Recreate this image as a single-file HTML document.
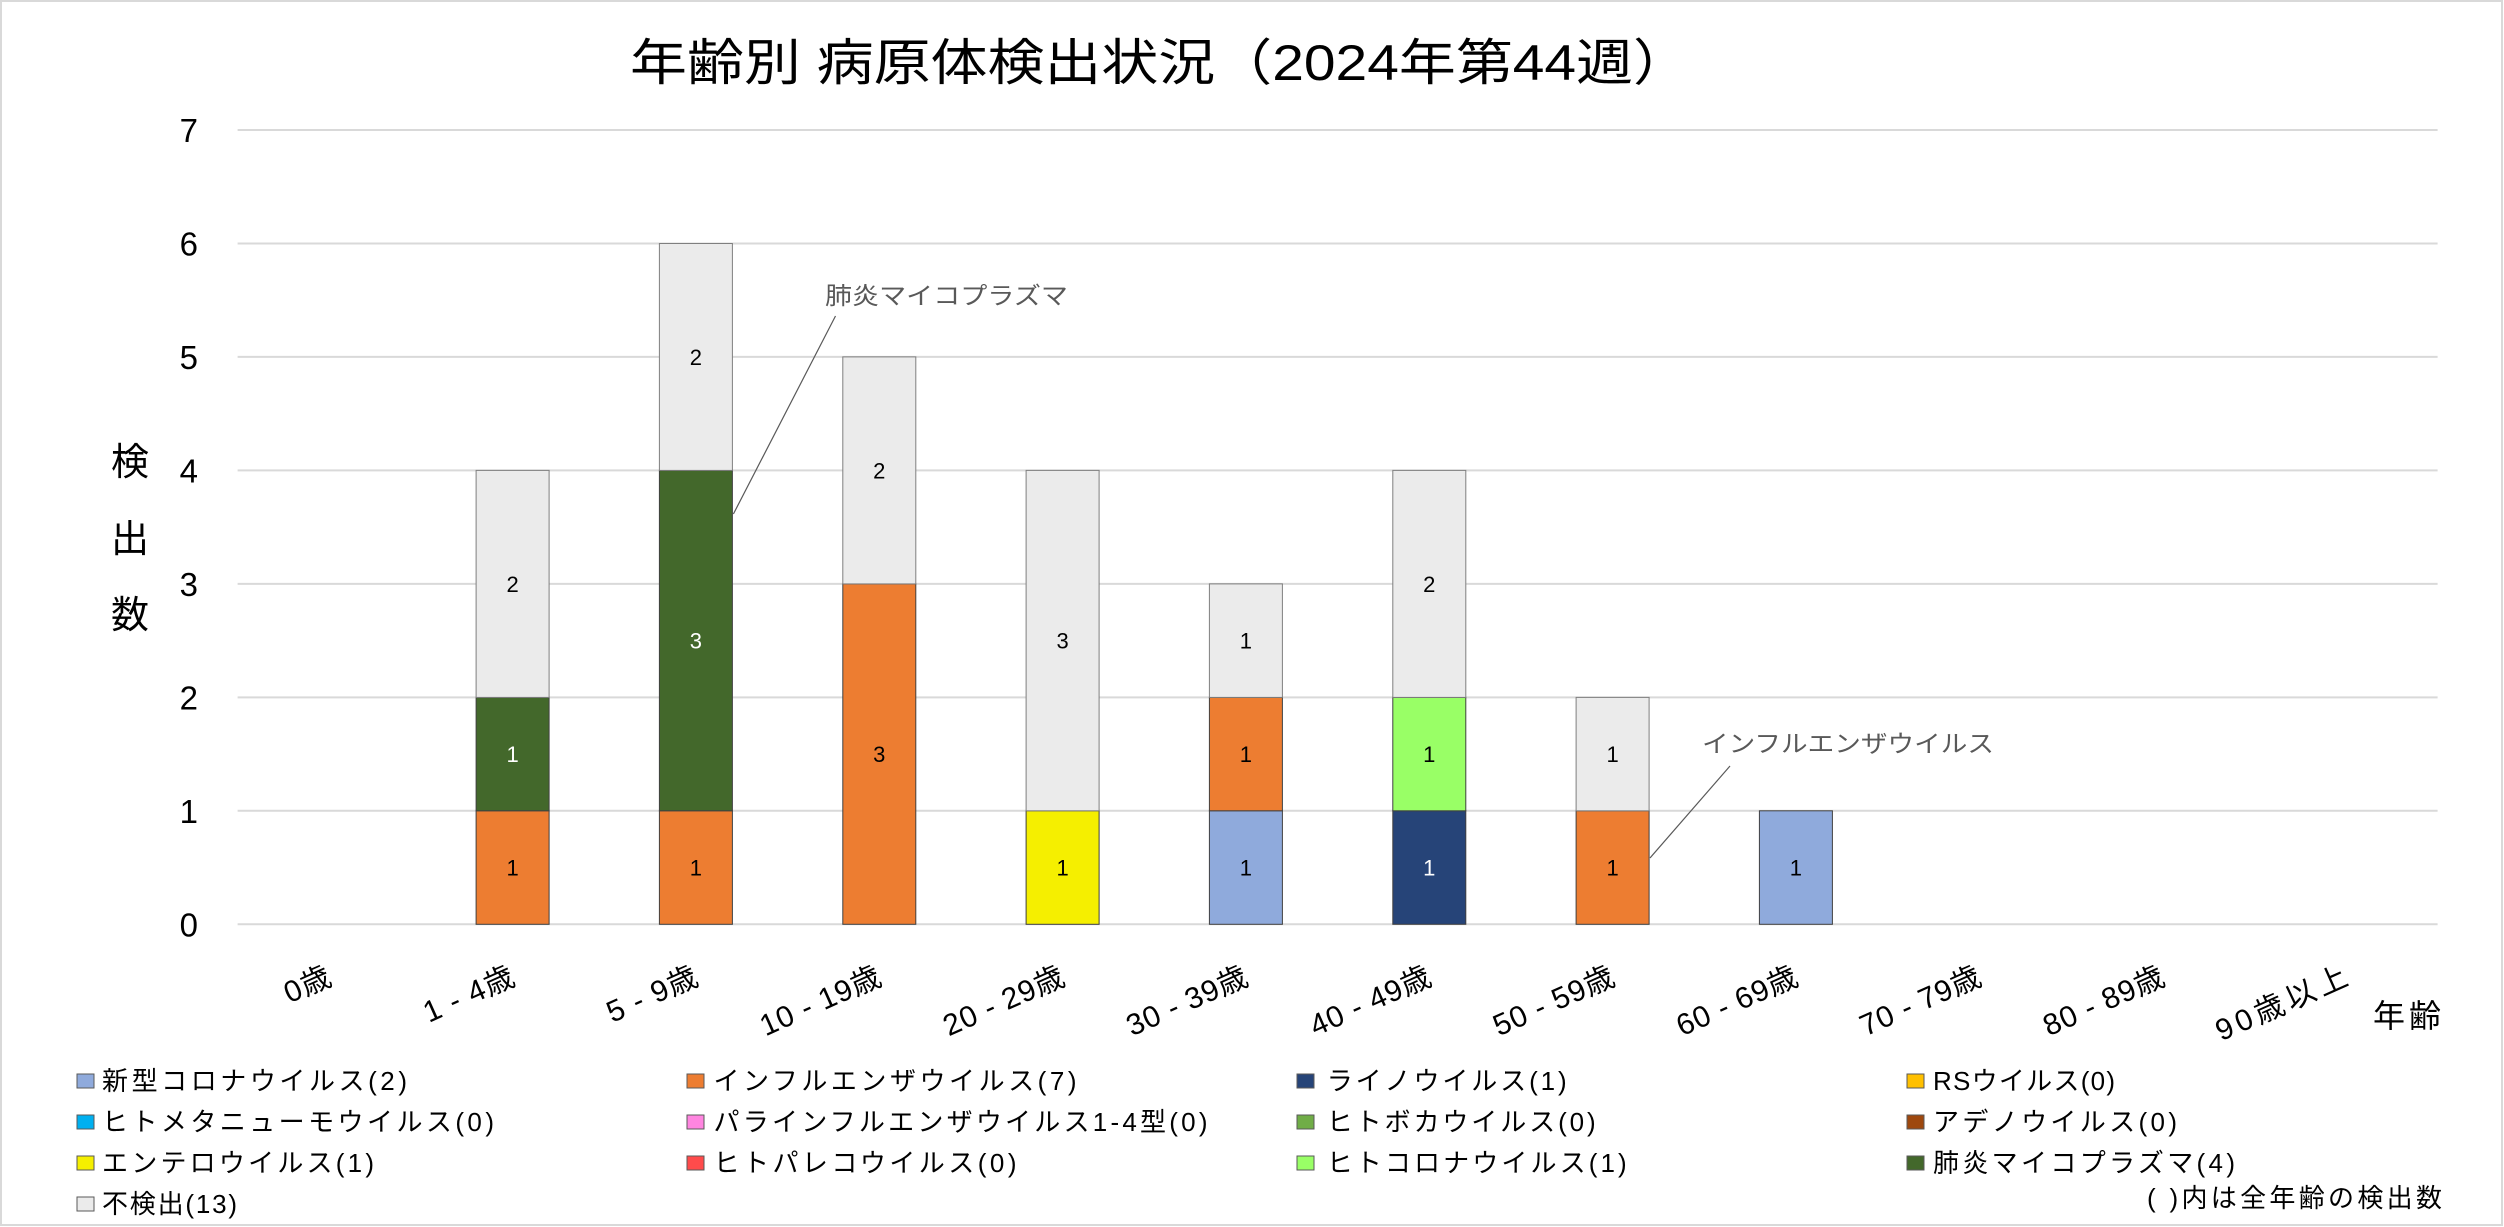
<!DOCTYPE html>
<html>
<head>
<meta charset="utf-8">
<style>
html,body{margin:0;padding:0;background:#fff;}
body{width:2504px;height:1227px;overflow:hidden;}
svg{display:block;}
text{font-family:"Liberation Sans","Noto Sans CJK JP",sans-serif;}
</style>
</head>
<body>
<svg width="2504" height="1227" viewBox="0 0 2504 1227" xmlns="http://www.w3.org/2000/svg">
<rect x="0" y="0" width="2504" height="1227" fill="#fff"/>
<rect x="1" y="1" width="2501" height="1224" fill="none" stroke="#d9d9d9" stroke-width="2"/>

<!-- Title -->
<text x="630" y="80" font-size="50" fill="#000" textLength="1060" lengthAdjust="spacingAndGlyphs">年齢別 病原体検出状況（2024年第44週）</text>

<!-- gridlines -->
<g stroke="#d9d9d9" stroke-width="2">
<line x1="237.6" y1="130.0" x2="2437.6" y2="130.0"/>
<line x1="237.6" y1="243.5" x2="2437.6" y2="243.5"/>
<line x1="237.6" y1="356.9" x2="2437.6" y2="356.9"/>
<line x1="237.6" y1="470.4" x2="2437.6" y2="470.4"/>
<line x1="237.6" y1="583.9" x2="2437.6" y2="583.9"/>
<line x1="237.6" y1="697.4" x2="2437.6" y2="697.4"/>
<line x1="237.6" y1="810.8" x2="2437.6" y2="810.8"/>
<line x1="237.6" y1="924.3" x2="2437.6" y2="924.3"/>
</g>

<!-- y tick labels -->
<g font-size="33" fill="#000" text-anchor="end">
<text x="198" y="142">7</text>
<text x="198" y="255.5">6</text>
<text x="198" y="369">5</text>
<text x="198" y="482.5">4</text>
<text x="198" y="596">3</text>
<text x="198" y="709.5">2</text>
<text x="198" y="823">1</text>
<text x="198" y="936.5">0</text>
</g>

<!-- y axis title -->
<g font-size="38" fill="#000" text-anchor="middle">
<text x="130" y="475">検</text>
<text x="130" y="552">出</text>
<text x="130" y="628">数</text>
</g>

<!-- bars -->
<g stroke="#404040" stroke-width="1">
<!-- 1-4 -->
<rect x="476.1" y="810.8" width="73" height="113.5" fill="#ed7d31"/>
<rect x="476.1" y="697.4" width="73" height="113.4" fill="#43682b"/>
<rect x="476.1" y="470.4" width="73" height="227" fill="#ebebeb" stroke="#7f7f7f"/>
<!-- 5-9 -->
<rect x="659.4" y="810.8" width="73" height="113.5" fill="#ed7d31"/>
<rect x="659.4" y="470.4" width="73" height="340.4" fill="#43682b"/>
<rect x="659.4" y="243.5" width="73" height="226.9" fill="#ebebeb" stroke="#7f7f7f"/>
<!-- 10-19 -->
<rect x="842.8" y="583.9" width="73" height="340.4" fill="#ed7d31"/>
<rect x="842.8" y="356.9" width="73" height="227" fill="#ebebeb" stroke="#7f7f7f"/>
<!-- 20-29 -->
<rect x="1026.1" y="810.8" width="73" height="113.5" fill="#f5ef00"/>
<rect x="1026.1" y="470.4" width="73" height="340.4" fill="#ebebeb" stroke="#7f7f7f"/>
<!-- 30-39 -->
<rect x="1209.4" y="810.8" width="73" height="113.5" fill="#8faadc"/>
<rect x="1209.4" y="697.4" width="73" height="113.4" fill="#ed7d31"/>
<rect x="1209.4" y="583.9" width="73" height="113.5" fill="#ebebeb" stroke="#7f7f7f"/>
<!-- 40-49 -->
<rect x="1392.8" y="810.8" width="73" height="113.5" fill="#264478"/>
<rect x="1392.8" y="697.4" width="73" height="113.4" fill="#99ff66"/>
<rect x="1392.8" y="470.4" width="73" height="227" fill="#ebebeb" stroke="#7f7f7f"/>
<!-- 50-59 -->
<rect x="1576.1" y="810.8" width="73" height="113.5" fill="#ed7d31"/>
<rect x="1576.1" y="697.4" width="73" height="113.4" fill="#ebebeb" stroke="#7f7f7f"/>
<!-- 60-69 -->
<rect x="1759.4" y="810.8" width="73" height="113.5" fill="#8faadc"/>
</g>

<!-- data labels -->
<g font-size="22" text-anchor="middle" fill="#000">
<text x="512.6" y="875.5">1</text>
<text x="512.6" y="762" fill="#fff">1</text>
<text x="512.6" y="592">2</text>
<text x="695.9" y="875.5">1</text>
<text x="695.9" y="648.5" fill="#fff">3</text>
<text x="695.9" y="365">2</text>
<text x="879.3" y="762">3</text>
<text x="879.3" y="478.5">2</text>
<text x="1062.6" y="875.5">1</text>
<text x="1062.6" y="648.5">3</text>
<text x="1245.9" y="875.5">1</text>
<text x="1245.9" y="762">1</text>
<text x="1245.9" y="648.5">1</text>
<text x="1429.3" y="875.5" fill="#fff">1</text>
<text x="1429.3" y="762">1</text>
<text x="1429.3" y="592">2</text>
<text x="1612.6" y="875.5">1</text>
<text x="1612.6" y="762">1</text>
<text x="1795.9" y="875.5">1</text>
</g>

<!-- annotations -->
<g stroke="#595959" stroke-width="1.2">
<line x1="835.5" y1="316" x2="733.4" y2="514"/>
<line x1="1730" y1="766" x2="1650" y2="858"/>
</g>
<text x="825" y="304" font-size="24" fill="#595959" textLength="243" lengthAdjust="spacingAndGlyphs">肺炎マイコプラズマ</text>
<text x="1702" y="752" font-size="24" fill="#595959" textLength="292" lengthAdjust="spacingAndGlyphs">インフルエンザウイルス</text>

<!-- x labels -->
<g font-size="30" fill="#000" text-anchor="end">
<text x="333.3" y="984" transform="rotate(-24 333.3 984)" textLength="48" lengthAdjust="spacing">0歳</text>
<text x="516.6" y="984" transform="rotate(-24 516.6 984)" textLength="96" lengthAdjust="spacing">1 - 4歳</text>
<text x="699.9" y="984" transform="rotate(-24 699.9 984)" textLength="96" lengthAdjust="spacing">5 - 9歳</text>
<text x="883.3" y="984" transform="rotate(-24 883.3 984)" textLength="129" lengthAdjust="spacing">10 - 19歳</text>
<text x="1066.6" y="984" transform="rotate(-24 1066.6 984)" textLength="129" lengthAdjust="spacing">20 - 29歳</text>
<text x="1249.9" y="984" transform="rotate(-24 1249.9 984)" textLength="129" lengthAdjust="spacing">30 - 39歳</text>
<text x="1433.3" y="984" transform="rotate(-24 1433.3 984)" textLength="129" lengthAdjust="spacing">40 - 49歳</text>
<text x="1616.6" y="984" transform="rotate(-24 1616.6 984)" textLength="129" lengthAdjust="spacing">50 - 59歳</text>
<text x="1799.9" y="984" transform="rotate(-24 1799.9 984)" textLength="129" lengthAdjust="spacing">60 - 69歳</text>
<text x="1983.3" y="984" transform="rotate(-24 1983.3 984)" textLength="129" lengthAdjust="spacing">70 - 79歳</text>
<text x="2166.6" y="984" transform="rotate(-24 2166.6 984)" textLength="129" lengthAdjust="spacing">80 - 89歳</text>
<text x="2349.9" y="984" transform="rotate(-24 2349.9 984)" textLength="141" lengthAdjust="spacing">90歳以上</text>
</g>

<!-- x axis title -->
<text x="2373" y="1027" font-size="32" fill="#000" textLength="68" lengthAdjust="spacing">年齢</text>

<!-- legend -->
<g stroke="#595959" stroke-width="1">
<rect x="77" y="1074" width="17" height="14" fill="#8faadc"/>
<rect x="77" y="1115" width="17" height="14" fill="#00b0f0"/>
<rect x="77" y="1156" width="17" height="14" fill="#f5ef00"/>
<rect x="77" y="1197" width="17" height="14" fill="#ebebeb"/>
<rect x="687" y="1074" width="17" height="14" fill="#ed7d31"/>
<rect x="687" y="1115" width="17" height="14" fill="#ff85e0"/>
<rect x="687" y="1156" width="17" height="14" fill="#ff4b4b"/>
<rect x="1297" y="1074" width="17" height="14" fill="#264478"/>
<rect x="1297" y="1115" width="17" height="14" fill="#70ad47"/>
<rect x="1297" y="1156" width="17" height="14" fill="#99ff66"/>
<rect x="1907" y="1074" width="17" height="14" fill="#ffc000"/>
<rect x="1907" y="1115" width="17" height="14" fill="#9e480e"/>
<rect x="1907" y="1156" width="17" height="14" fill="#43682b"/>
</g>
<g font-size="26" fill="#000">
<text x="102" y="1090" textLength="305" lengthAdjust="spacing">新型コロナウイルス(2)</text>
<text x="102" y="1131" textLength="392" lengthAdjust="spacing">ヒトメタニューモウイルス(0)</text>
<text x="102" y="1172" textLength="272" lengthAdjust="spacing">エンテロウイルス(1)</text>
<text x="102" y="1213" textLength="135" lengthAdjust="spacing">不検出(13)</text>
<text x="713.5" y="1090" textLength="363" lengthAdjust="spacing">インフルエンザウイルス(7)</text>
<text x="713.5" y="1131" textLength="494" lengthAdjust="spacing">パラインフルエンザウイルス1-4型(0)</text>
<text x="713.5" y="1172" textLength="303" lengthAdjust="spacing">ヒトパレコウイルス(0)</text>
<text x="1326.7" y="1090" textLength="240" lengthAdjust="spacing">ライノウイルス(1)</text>
<text x="1326.7" y="1131" textLength="269" lengthAdjust="spacing">ヒトボカウイルス(0)</text>
<text x="1326.7" y="1172" textLength="300" lengthAdjust="spacing">ヒトコロナウイルス(1)</text>
<text x="1933" y="1090" textLength="182" lengthAdjust="spacing">RSウイルス(0)</text>
<text x="1933" y="1131" textLength="244" lengthAdjust="spacing">アデノウイルス(0)</text>
<text x="1933" y="1172" textLength="302" lengthAdjust="spacing">肺炎マイコプラズマ(4)</text>
<text x="2147" y="1207" textLength="295" lengthAdjust="spacing">( )内は全年齢の検出数</text>
</g>
</svg>
</body>
</html>
